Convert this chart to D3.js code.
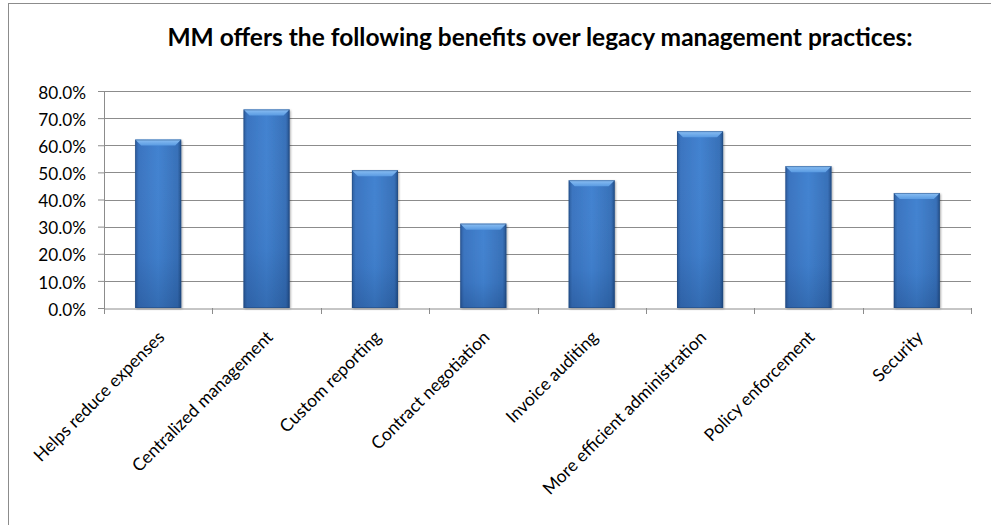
<!DOCTYPE html>
<html>
<head>
<meta charset="utf-8">
<script src="https://cdn.jsdelivr.net/npm/d3@7/dist/d3.min.js"></script>
<style>
  html, body { margin: 0; padding: 0; background: #fff; }
  svg { display: block; }
  text { font-family: Lato, "Open Sans", "Liberation Sans", sans-serif; fill: #000; }
</style>
</head>
<body>
<svg id="chart" width="991" height="525"></svg>
<script>
// Survey responses: share of respondents citing each benefit
const categories = [
  "Helps reduce expenses",
  "Centralized management",
  "Custom reporting",
  "Contract negotiation",
  "Invoice auditing",
  "More efficient administration",
  "Policy enforcement",
  "Security"
];
const values = [0.621, 0.732, 0.508, 0.311, 0.471, 0.652, 0.523, 0.424];
const yTicks = [0, 0.1, 0.2, 0.3, 0.4, 0.5, 0.6, 0.7, 0.8];
const title = "MM offers the following benefits over legacy management practices:";

const svg = d3.select("#chart");

// outer chart frame
svg.append("rect")
  .attr("x", 8.5).attr("y", 3.5)
  .attr("width", 1000).attr("height", 600)
  .attr("fill", "none").attr("stroke", "#8c8c8c").attr("stroke-width", 1);

const x = d3.scaleBand()
  .domain(categories)
  .range([104, 971])
  .paddingInner(0.575)
  .paddingOuter(0.2875);

const y = d3.scaleLinear().domain([0, 0.8]).range([308, 91]);

// gradients for the bevelled bars
const defs = svg.append("defs");
const body = defs.append("linearGradient").attr("id", "barBody")
  .attr("x1", 0).attr("x2", 1).attr("y1", 0).attr("y2", 0);
[[0, "#2c5c9c"], [0.08, "#3a74c0"], [0.5, "#4282d0"], [0.92, "#3770b8"], [1, "#24508a"]]
  .forEach(([o, c]) => body.append("stop").attr("offset", o).attr("stop-color", c));
const shade = defs.append("linearGradient").attr("id", "barShade")
  .attr("x1", 0).attr("x2", 0).attr("y1", 0).attr("y2", 1);
[[0, "#ffffff", 0], [0.7, "#0a2a5a", 0.05], [1, "#0a2a5a", 0.25]]
  .forEach(([o, c, a]) => shade.append("stop").attr("offset", o).attr("stop-color", c).attr("stop-opacity", a));
const bevel = defs.append("linearGradient").attr("id", "barBevel")
  .attr("x1", 0).attr("x2", 0).attr("y1", 0).attr("y2", 1);
[[0, "#8cc0f4"], [1, "#5a9be2"]]
  .forEach(([o, c]) => bevel.append("stop").attr("offset", o).attr("stop-color", c));
defs.append("filter").attr("id", "barShadow")
  .attr("x", "-20%").attr("y", "-10%").attr("width", "140%").attr("height", "120%")
  .call(f => f.append("feDropShadow").attr("dx", 1).attr("dy", 1).attr("stdDeviation", 1.2)
    .attr("flood-color", "#000").attr("flood-opacity", 0.35));

// value axis with percentage labels
const yAxis = d3.axisLeft(y).tickValues(yTicks)
  .tickSize(6).tickPadding(12)
  .tickFormat(d => (d * 100).toFixed(1) + "%");
const gy = svg.append("g").attr("transform", "translate(104,0)").call(yAxis);
gy.select(".domain").attr("stroke", "#8c8c8c");
gy.selectAll(".tick line").attr("stroke", "#8c8c8c");
gy.selectAll(".tick text").attr("font-size", 17.2).attr("fill", "#000").attr("dy", "0.42em");

// horizontal gridlines
svg.append("g").selectAll("line")
  .data(yTicks.filter(d => d > 0))
  .join("line")
  .attr("x1", 104).attr("x2", 971)
  .attr("y1", d => Math.round(y(d)) + 0.5).attr("y2", d => Math.round(y(d)) + 0.5)
  .attr("stroke", "#8c8c8c").attr("stroke-width", 1.2);

// bars
const bars = svg.append("g").selectAll("g.bar")
  .data(categories.map((c, i) => ({ c, v: values[i] })))
  .join("g").attr("class", "bar");
bars.append("rect")
  .attr("x", d => x(d.c)).attr("y", d => y(d.v))
  .attr("width", x.bandwidth()).attr("height", d => y(0) - y(d.v))
  .attr("fill", "url(#barBody)").attr("filter", "url(#barShadow)");
bars.append("rect")
  .attr("x", d => x(d.c)).attr("y", d => y(d.v))
  .attr("width", x.bandwidth()).attr("height", d => y(0) - y(d.v))
  .attr("fill", "url(#barShade)");
bars.append("path")
  .attr("d", d => {
    const x0 = x(d.c), x1 = x0 + x.bandwidth(), t = y(d.v), b = 6;
    return `M${x0},${t}L${x1},${t}L${x1 - b},${t + b}L${x0 + b},${t + b}Z`;
  })
  .attr("fill", "url(#barBevel)");
bars.append("rect")
  .attr("x", d => x(d.c) + 0.5).attr("y", d => y(d.v) + 0.5)
  .attr("width", x.bandwidth() - 1).attr("height", d => y(0) - y(d.v) - 1)
  .attr("fill", "none").attr("stroke", "#1f4577").attr("stroke-opacity", 0.45);

// category axis
const xAxis = d3.axisBottom(x).tickSize(0).tickFormat("");
const gx = svg.append("g").attr("transform", "translate(0,308.5)").call(xAxis);
gx.select(".domain").attr("stroke", "#8c8c8c");
const step = x.step();
const boundaries = d3.range(categories.length + 1).map(i => 104 + i * step);
svg.append("g").selectAll("line").data(boundaries).join("line")
  .attr("x1", d => Math.round(d) + 0.5).attr("x2", d => Math.round(d) + 0.5)
  .attr("y1", 308).attr("y2", 314)
  .attr("stroke", "#8c8c8c");

svg.append("g").selectAll("text").data(categories).join("text")
  .attr("transform", d => `translate(${x(d) + x.bandwidth() / 2 + 3},${334}) rotate(-45)`)
  .attr("text-anchor", "end")
  .attr("dy", "0.35em")
  .attr("font-size", 17.5)
  .text(d => d);

// title
svg.append("text")
  .attr("x", 540).attr("y", 46)
  .attr("text-anchor", "middle")
  .attr("font-size", 24.5)
  .attr("font-weight", "bold")
  .text(title);
</script>
</body>
</html>
